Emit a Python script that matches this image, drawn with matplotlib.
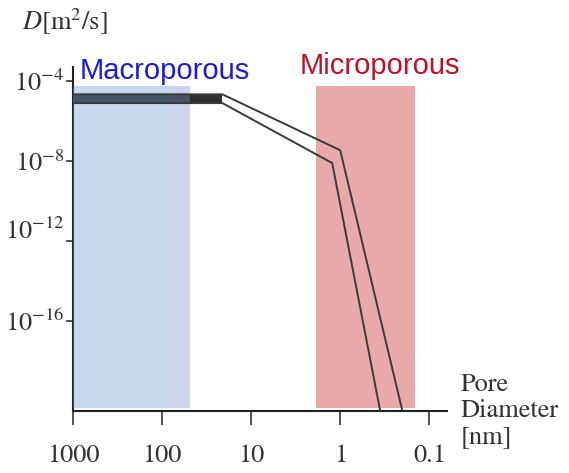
import matplotlib.pyplot as plt
import matplotlib.transforms as mtransforms
import numpy as np

# pore diameter [nm] and diffusivity [m^2/s] for the two boundary lines
pore_upper = [1000, 21, 1.0, 0.2]
d_upper = [2.2e-5, 2.2e-5, 3.5e-8, 3e-21]
pore_lower = [1000, 21, 1.23, 0.355]
d_lower = [8e-6, 8e-6, 8e-9, 3e-21]

# shaded regions (pore diameter range)
macro_range = [1000, 77]
macro_edge = [77, 48]
micro_range = [1.86, 0.145]
region_top = 5.6e-5

xticks = [1000, 100, 10, 1, 0.1]
xtick_labels = ["1000", "100", "10", "1", "0.1"]
yticks = [1e-4, 1e-8, 1e-12, 1e-16]
ytick_labels = [r"$10^{-4}$", r"$10^{-8}$", r"$10^{-12}$", r"$10^{-16}$"]

plt.rcParams['font.family'] = ['STIXGeneral', 'DejaVu Serif']
plt.rcParams['mathtext.fontset'] = 'stix'

fig = plt.figure(figsize=(5.69, 4.73), dpi=100)
ax = fig.add_axes([0.128, 0.131, 0.658, 0.727])
ax.set_xscale('log')
ax.set_yscale('log')
ax.set_xlim(1000, 0.063)
ax.set_ylim(10**-20.5, 10**-3.3)

ybot = 10**-20.35
# dark band on the plateau
ax.fill_between(pore_upper[:2], d_lower[:2], d_upper[:2], color='#2e2e2e', zorder=3, lw=0)
# macroporous region overlay
ax.fill_between(macro_range, ybot, region_top, color='#6598d1', alpha=0.37, lw=0, zorder=4)
ax.fill_between(macro_edge, ybot, region_top, color='#7d8bd1', alpha=0.37, lw=0, zorder=4)
# microporous region
ax.fill_between(micro_range, ybot, region_top, color='#e9a9a9', lw=0, zorder=1)

ax.plot(pore_upper, d_upper, color='#3a3a3a', lw=1.4, zorder=5)
ax.plot(pore_lower, d_lower, color='#3a3a3a', lw=1.4, zorder=5)

ax.set_xticks(xticks)
ax.set_xticklabels(xtick_labels)
ax.set_yticks(yticks)
ax.set_yticklabels(ytick_labels)
ax.minorticks_off()
ax.tick_params(axis='x', direction='out', length=10, width=1.2, pad=14, labelsize=19, colors='#333333')
ax.tick_params(axis='y', direction='out', length=5, width=1.2, pad=1, labelsize=19, colors='#333333')

# the 10^-12 label sits a bit above its tick in the original
lab = ax.get_yticklabels()[2]
lab.set_transform(lab.get_transform() + mtransforms.ScaledTranslation(0, 12 / 100, fig.dpi_scale_trans))

for s in ['top', 'right']:
    ax.spines[s].set_visible(False)
for s in ['left', 'bottom']:
    ax.spines[s].set_linewidth(1.5)
    ax.spines[s].set_color('#222222')

ax.text(1.035, 0.0, "Pore\nDiameter\n[nm]", transform=ax.transAxes, fontsize=19,
        color='#333333', va='center', ha='left', linespacing=1.1)
fig.text(0.038, 0.955, r"$D$[m$^2$/s]", fontsize=19, color='#333333', va='center', ha='left')

ax.text(0.018, 0.989, "Macroporous", transform=ax.transAxes, fontsize=21,
        color='#1a1ae0', family='Liberation Sans', va='center', ha='left')
ax.text(0.605, 1.004, "Microporous", transform=ax.transAxes, fontsize=21,
        color='#c0102a', family='Liberation Sans', va='center', ha='left')

fig.savefig("out.png", dpi=100)
